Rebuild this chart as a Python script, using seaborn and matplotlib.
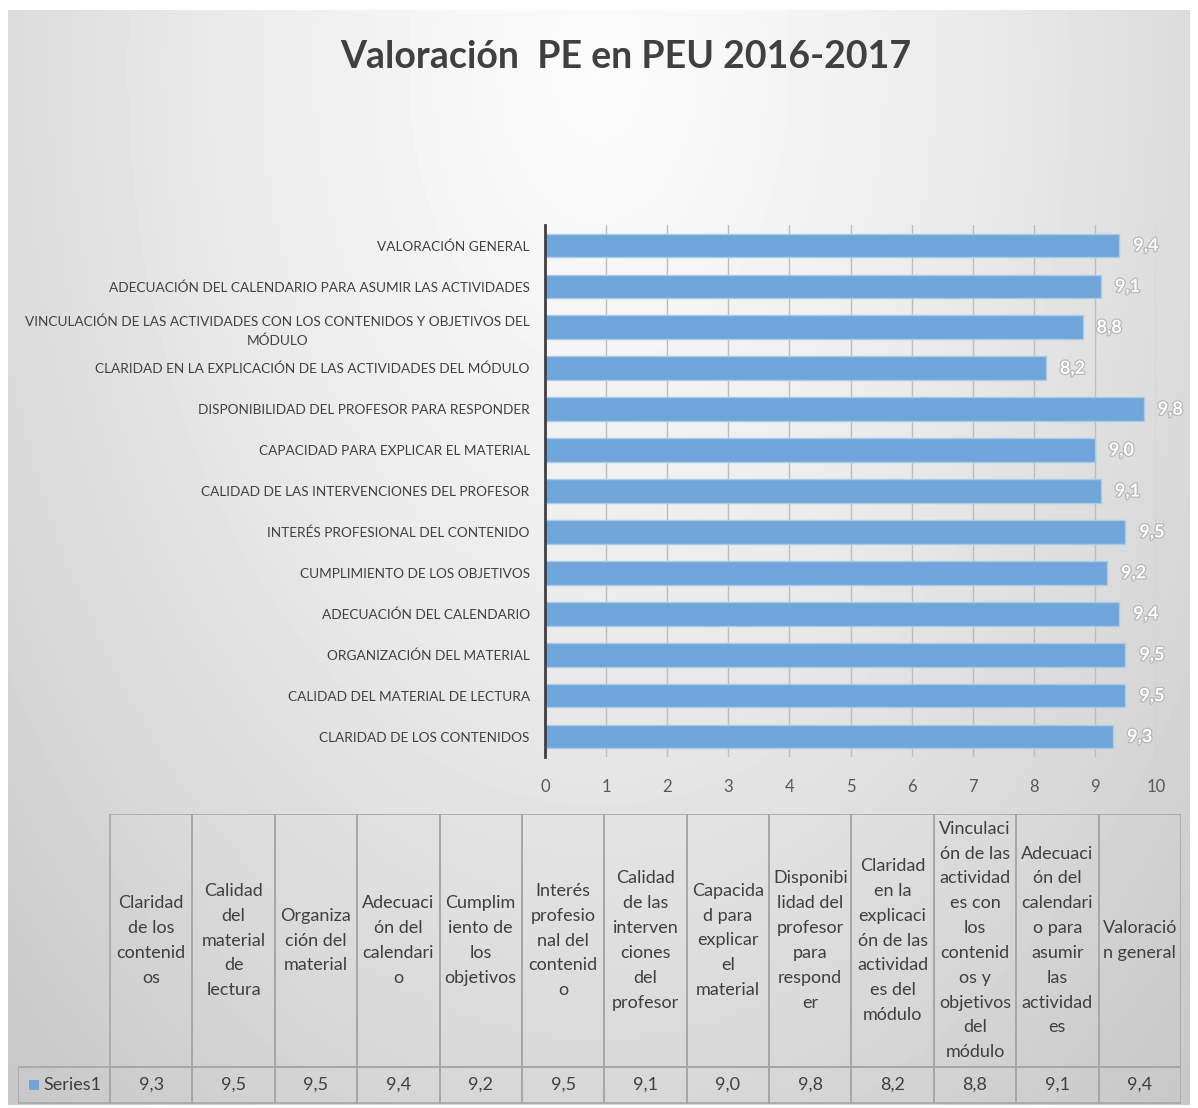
import textwrap
import matplotlib
matplotlib.use('Agg')
import matplotlib.pyplot as plt
import matplotlib.patheffects as pe
from matplotlib.patches import Rectangle
import numpy as np
import pandas as pd
import seaborn as sns

# data
categorias = [
    "Claridad de los contenidos",
    "Calidad del material de lectura",
    "Organización del material",
    "Adecuación del calendario",
    "Cumplimiento de los objetivos",
    "Interés profesional del contenido",
    "Calidad de las intervenciones del profesor",
    "Capacidad para explicar el material",
    "Disponibilidad del profesor para responder",
    "Claridad en la explicación de las actividades del módulo",
    "Vinculación de las actividades con los contenidos y objetivos del módulo",
    "Adecuación del calendario para asumir las actividades",
    "Valoración general",
]
valores = [9.3, 9.5, 9.5, 9.4, 9.2, 9.5, 9.1, 9.0, 9.8, 8.2, 8.8, 9.1, 9.4]
cabeceras_tabla = [
    "Claridad\nde los\ncontenid\nos",
    "Calidad\ndel\nmaterial\nde\nlectura",
    "Organiza\nción del\nmaterial",
    "Adecuaci\nón del\ncalendari\no",
    "Cumplim\niento de\nlos\nobjetivos",
    "Interés\nprofesio\nnal del\ncontenid\no",
    "Calidad\nde las\ninterven\nciones\ndel\nprofesor",
    "Capacida\nd para\nexplicar\nel\nmaterial",
    "Disponibi\nlidad del\nprofesor\npara\nrespond\ner",
    "Claridad\nen la\nexplicaci\nón de las\nactividad\nes del\nmódulo",
    "Vinculaci\nón de las\nactividad\nes con\nlos\ncontenid\nos y\nobjetivos\ndel\nmódulo",
    "Adecuaci\nón del\ncalendari\no para\nasumir\nlas\nactividad\nes",
    "Valoració\nn general",
]
serie = "Series1"
titulo = "Valoración  PE en PEU 2016-2017"

def fmt(v):
    return f"{v:.1f}".replace('.', ',')

sns.set_theme(style='white')
plt.rcParams['font.family'] = ['Lato', 'DejaVu Sans']

W, H = 1198, 1108
fig = plt.figure(figsize=(W / 100, H / 100), dpi=100)
fig.patch.set_facecolor('white')

# background gradient (radial, light at top centre)
bg = fig.add_axes([8 / W, 3 / H, 1182 / W, 1095 / H], zorder=-5)
yy, xx = np.mgrid[0:1:300j, 0:1:300j]
d = np.sqrt(((xx - 0.5) / 0.62) ** 2 + ((yy - 0.05) / 1.05) ** 2)
shade = 0.985 - 0.16 * np.clip(d, 0, 1.2) ** 1.3
bg.imshow(shade, cmap='gray', vmin=0, vmax=1, aspect='auto', extent=[0, 1, 1, 0])
bg.set_axis_off()

fig.text(626 / W, 1 - 57 / H, titulo, ha='center', va='center',
         fontsize=27, fontweight='bold', color='#404040')

# main bar chart
ax = fig.add_axes([545 / W, 1 - 757 / H, 611 / W, 532 / H])
ax.set_facecolor('none')
df = pd.DataFrame({
    'etiqueta': [textwrap.fill(c.upper(), 65) for c in categorias],
    'valor': valores,
})
orden = df['etiqueta'].tolist()[::-1]
sns.barplot(data=df, x='valor', y='etiqueta', order=orden, orient='h',
            color='#6FA5D9', saturation=1, width=0.58,
            edgecolor='#A9CBEB', linewidth=1, ax=ax, zorder=3)
ax.set_xlim(0, 10)
ax.set_ylim(12.5, -0.5)
ax.set_xticks(range(0, 11))
ax.xaxis.grid(True, color='#BDBDBD', linewidth=1)
ax.set_axisbelow(True)
for s in ['top', 'right', 'bottom']:
    ax.spines[s].set_visible(False)
ax.spines['left'].set_color('#404040')
ax.spines['left'].set_linewidth(2)
ax.spines['left'].set_zorder(4)
ax.tick_params(axis='x', length=0, pad=16, labelsize=12, labelcolor='#595959')
ax.tick_params(axis='y', length=0, pad=11, labelsize=9.8, labelcolor='#404040')
for lab in ax.get_yticklabels():
    lab.set_multialignment('center')
    lab.set_linespacing(1.6)
ax.set_xlabel('')
ax.set_ylabel('')
orden_vals = [valores[categorias.index(c)] for c in categorias[::-1]]
ax.bar_label(ax.containers[0], labels=[fmt(v) for v in orden_vals], padding=10,
             color='white', fontsize=13, fontweight='bold',
             path_effects=[pe.withStroke(linewidth=1.8, foreground='#B8B8B8')])

# data table
tx = fig.add_axes([18 / W, 1 - 1104 / H, 1163 / W, 290 / H])
tx.set_xlim(0, 1163)
tx.set_ylim(290, 0)
tx.set_axis_off()
first_w = 92
col_w = (1163 - first_w) / len(categorias)
head_h = 253
row_h = 289 - head_h
lc = '#A6A6A6'
for i, (cab, v) in enumerate(zip(cabeceras_tabla, valores)):
    x0 = first_w + i * col_w
    tx.add_patch(Rectangle((x0, 0), col_w, head_h, fill=False, edgecolor=lc, lw=1.2))
    tx.add_patch(Rectangle((x0, head_h), col_w, row_h, fill=False, edgecolor=lc, lw=1.2))
    tx.text(x0 + col_w / 2, head_h / 2, cab, ha='center', va='center',
            fontsize=13, color='#404040', linespacing=1.68, multialignment='center')
    tx.text(x0 + col_w / 2, head_h + row_h / 2, fmt(v), ha='center', va='center',
            fontsize=13, color='#404040')
tx.add_patch(Rectangle((0, head_h), first_w, row_h, fill=False, edgecolor=lc, lw=1.2))
tx.add_patch(Rectangle((11, head_h + row_h / 2 - 5), 10, 10, color='#6FA5D9', lw=0))
tx.text(25, head_h + row_h / 2, serie, ha='left', va='center', fontsize=13, color='#404040')

fig.savefig('out.png', dpi=100)
